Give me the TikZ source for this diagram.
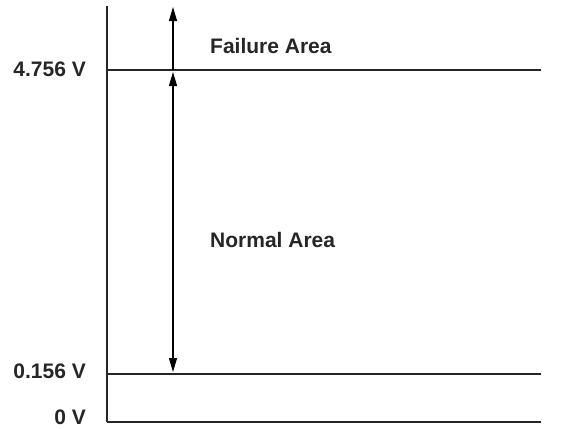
\documentclass[tikz,border=0pt]{standalone}
\usepackage{fontspec}
\setmainfont{Liberation Sans}
\usetikzlibrary{arrows.meta}
\tikzset{
  lvl/.style={line width=1.1bp,black!85},
  vlabel/.style={anchor=east,inner sep=0pt,font=\bfseries\fontsize{21bp}{23bp}\selectfont,black!85},
  alabel/.style={anchor=west,inner sep=0pt,font=\bfseries\fontsize{21bp}{23bp}\selectfont,black!85},
  span/.style={line width=1.1bp,black,-{Triangle[length=14bp,width=8bp]}}
}
\begin{document}
\begin{tikzpicture}[x=1bp,y=-1bp]
\useasboundingbox (0,0) rectangle (574,428);
% axis and levels
\coordinate (top) at (107,6);
\coordinate (zero) at (107,422);
\coordinate (hiL) at (107,70);
\coordinate (hiR) at (541,70);
\coordinate (loL) at (107,374);
\coordinate (loR) at (541,374);
\coordinate (zeroR) at (541,422);
\draw[lvl] (top) -- (zero);
\draw[lvl] (hiL) -- (hiR);
\draw[lvl] (loL) -- (loR);
\draw[lvl] (zero) -- (zeroR);
% arrows
\coordinate (aTop) at (173,7);
\coordinate (aHi) at (173,70);
\coordinate (aLo) at (173,374);
\draw[span] (aHi) -- (aTop);
\draw[span,{Triangle[length=14bp,width=8bp]}-{Triangle[length=14bp,width=8bp]},shorten <=2bp,shorten >=2bp] (aHi) -- (aLo);
% labels
\node[vlabel] (vhi) at (86,69) {4.756 V};
\node[vlabel] (vlo) at (86,371) {0.156 V};
\node[vlabel] (vzero) at (86,417) {0 V};
\node[alabel] (fail) at (210,46) {Failure Area};
\node[alabel] (norm) at (210,240) {Normal Area};
\end{tikzpicture}
\end{document}
